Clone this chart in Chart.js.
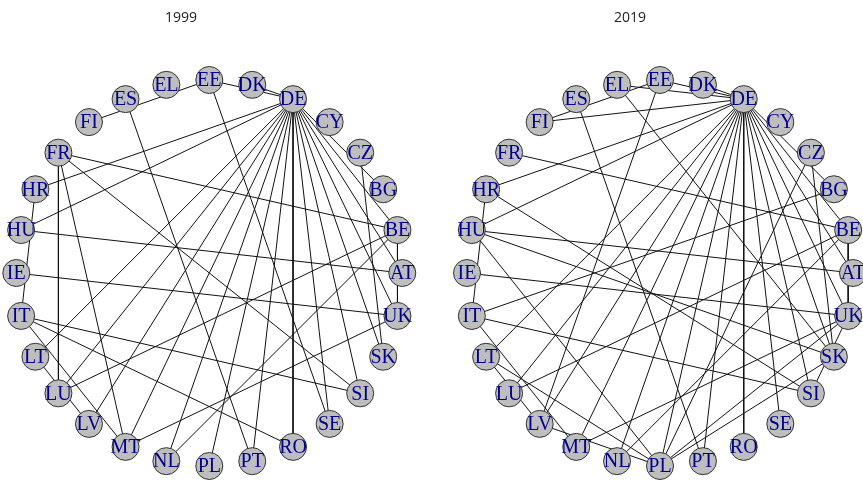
<!DOCTYPE html>
<html>
<head>
<meta charset="utf-8">
<script src="https://cdn.jsdelivr.net/npm/chart.js@4.4.0/dist/chart.umd.min.js"></script>
<style>
  html, body { margin: 0; padding: 0; background: #ffffff; }
  #wrap { position: relative; width: 863px; height: 483px; overflow: hidden; }
  canvas { position: absolute; top: 0; }
  #net1999 { left: 0; }
  #net2019 { left: 431px; }
</style>
</head>
<body>
<div id="wrap">
  <canvas id="net1999" width="431" height="483"></canvas>
  <canvas id="net2019" width="432" height="483"></canvas>
</div>
<script>
// Member states, in the order they sit round the circle (counter-clockwise from the right)
const countries = ['AT','BE','BG','CZ','CY','DE','DK','EE','EL','ES','FI','FR','HR','HU',
                   'IE','IT','LT','LU','LV','MT','NL','PL','PT','RO','SE','SI','SK','UK'];

const years = ['1999', '2019'];

// Links between countries, one pair per edge
const edges1999 = [
  ['DE','DK'],['DE','EE'],['DE','BG'],['DE','HR'],['DE','HU'],['DE','BE'],['DE','AT'],
  ['DE','UK'],['DE','SK'],['DE','SI'],['DE','SE'],['DE','RO'],['DE','PT'],['DE','PL'],
  ['DE','NL'],['DE','LV'],['DE','LU'],['DE','LT'],['DE','MT'],
  ['EE','FI'],['EE','SE'],['ES','PT'],['FR','BE'],['FR','LU'],['FR','MT'],['FR','SI'],
  ['HR','IT'],['HU','AT'],['IE','UK'],['IT','SI'],['IT','RO'],['IT','MT'],['MT','UK'],
  ['LU','BE'],['CZ','SK'],['BE','UK'],['NL','BE'],['LT','LV']
];

const edges2019 = [
  ['DE','DK'],['DE','EE'],['DE','EL'],['DE','FI'],['DE','HR'],['DE','HU'],['DE','BG'],
  ['DE','BE'],['DE','AT'],['DE','UK'],['DE','SK'],['DE','SI'],['DE','SE'],['DE','RO'],
  ['DE','PT'],['DE','PL'],['DE','NL'],['DE','MT'],['DE','LV'],['DE','LU'],['DE','LT'],
  ['EE','FI'],['ES','PT'],['FR','BE'],['HR','SI'],['HR','IT'],['HU','AT'],['HU','SK'],
  ['HU','PL'],['IE','UK'],['IT','BG'],['IT','SI'],['IT','MT'],['LT','PL'],['LT','LV'],
  ['LU','BE'],['LV','EE'],['LV','PL'],['CZ','SK'],['CZ','PL'],['BE','UK'],['UK','PL'],
  ['SI','UK'],['NL','BE'],['EL','SK'],['MT','UK'],['PL','SK']
];

// Circular layout: node i at angle 2*pi*i/n
function nodePos(code) {
  const i = countries.indexOf(code);
  const a = 2 * Math.PI * i / countries.length;
  return { x: Math.cos(a), y: Math.sin(a) };
}

const nodeLabels = {
  id: 'nodeLabels',
  afterDatasetsDraw(chart) {
    const { ctx, scales } = chart;
    ctx.save();
    ctx.font = '20px "Liberation Serif", "DejaVu Serif", serif';
    ctx.fillStyle = '#00008B';
    ctx.textAlign = 'center';
    ctx.textBaseline = 'middle';
    countries.forEach(c => {
      const p = nodePos(c);
      ctx.fillText(c, scales.x.getPixelForValue(p.x), scales.y.getPixelForValue(p.y) + 1);
    });
    ctx.restore();
  }
};

const panelTitle = {
  id: 'panelTitle',
  afterDraw(chart, args, opts) {
    const { ctx } = chart;
    ctx.save();
    ctx.font = '14px "Open Sans", "DejaVu Sans", sans-serif';
    ctx.fillStyle = '#222222';
    ctx.textAlign = 'center';
    ctx.textBaseline = 'middle';
    ctx.fillText(opts.text, opts.x, 18);
    ctx.restore();
  }
};

function drawNetwork(canvasId, year, edges, centerX, titleX) {
  const R = 193, centerY = 273;
  const canvas = document.getElementById(canvasId);
  const W = canvas.width, H = canvas.height;
  const nodeData = countries.map(c => nodePos(c));
  const datasets = [{
    data: nodeData,
    pointRadius: 13.5,
    pointHoverRadius: 13.5,
    pointBackgroundColor: '#BEBEBE',
    pointBorderColor: '#333333',
    pointBorderWidth: 1,
    showLine: false
  }];
  edges.forEach(([a, b]) => {
    datasets.push({
      data: [nodePos(a), nodePos(b)],
      showLine: true,
      borderColor: '#111111',
      borderWidth: 1,
      pointRadius: 0,
      pointHoverRadius: 0
    });
  });
  new Chart(canvas, {
    type: 'scatter',
    data: { datasets },
    options: {
      responsive: false,
      animation: false,
      events: [],
      layout: { autoPadding: false, padding: 0 },
      scales: {
        x: { display: false, min: -centerX / R, max: (W - centerX) / R },
        y: { display: false, min: -(H - centerY) / R, max: centerY / R }
      },
      plugins: {
        legend: { display: false },
        tooltip: { enabled: false },
        title: { display: false },
        panelTitle: { text: year, x: titleX }
      }
    },
    plugins: [nodeLabels, panelTitle]
  });
}

drawNetwork('net1999', years[0], edges1999, 209.3, 181);
drawNetwork('net2019', years[1], edges2019, 229, 199);
</script>
</body>
</html>
